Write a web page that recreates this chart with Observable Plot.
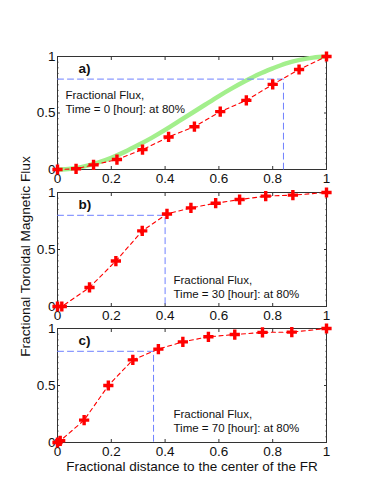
<!DOCTYPE html>
<html>
<head>
<meta charset="utf-8">
<script src="https://cdn.jsdelivr.net/npm/d3@7"></script>
<script src="https://cdn.jsdelivr.net/npm/@observablehq/plot@0.6"></script>
<style>
  body { margin: 0; background: #fff; }
  #wrap { position: relative; width: 369px; height: 503px; overflow: hidden; }
  #wrap svg { position: absolute; left: 0; top: 0; }
</style>
</head>
<body>
<div id="wrap"></div>
<script>
// ---- data ----
const xTicks = [0, 0.2, 0.4, 0.6, 0.8, 1];
const yTicks = [0, 0.5, 1];
const yMinorTicks = [0.05, 0.1, 0.15, 0.2, 0.25, 0.3, 0.35, 0.4, 0.45, 0.55, 0.6, 0.65, 0.7, 0.75, 0.8, 0.85, 0.9, 0.95];
const panelLabels = ["a)", "b)", "c)"];
const hours = [0, 30, 70];
const threshold = 0.8;
const crossX = [0.84, 0.40, 0.357];

const aX = [0, 0.069, 0.134, 0.221, 0.316, 0.413, 0.509, 0.605, 0.702, 0.80, 0.898, 1];
const aY = [0, 0.006, 0.041, 0.088, 0.176, 0.288, 0.379, 0.512, 0.612, 0.753, 0.885, 1];
const bX = [0, 0.016, 0.119, 0.217, 0.315, 0.407, 0.496, 0.588, 0.677, 0.774, 0.875, 1];
const bY = [0, 0, 0.167, 0.399, 0.663, 0.812, 0.865, 0.906, 0.938, 0.968, 0.977, 1];
const cX = [0, 0.01, 0.099, 0.189, 0.28, 0.375, 0.466, 0.561, 0.659, 0.762, 0.871, 1];
const cY = [0, 0.015, 0.196, 0.5, 0.725, 0.819, 0.883, 0.927, 0.947, 0.966, 0.968, 1];

// initial (green) profile, panel a
const greenX = [0, 0.05, 0.1, 0.15, 0.2, 0.25, 0.3, 0.35, 0.4, 0.45, 0.5, 0.55, 0.6, 0.65, 0.7, 0.75, 0.8, 0.85, 0.9, 0.95, 1];
const greenY = [0, 0.007, 0.028, 0.061, 0.104, 0.156, 0.216, 0.28, 0.35, 0.425, 0.5, 0.575, 0.65, 0.72, 0.785, 0.845, 0.895, 0.94, 0.97, 0.99, 1];

const yLabel = "Fractional Toroidal Magnetic Flux";
const xLabel = "Fractional distance to the center of the FR";

// ---- drawing ----
const W = 369, H = 503;
const fmt = d3.format("~g");
const FONT = "'Liberation Sans', Arial, Helvetica, sans-serif";
const frameColor = "#333";

const panels = [
  {xs: aX, ys: aY, top: 56, bottom: 169, green: true, noteDx: 8, noteDy: 33},
  {xs: bX, ys: bY, top: 192, bottom: 306, yLab: true, noteDx: 116, noteDy: 82},
  {xs: cX, ys: cY, top: 328, bottom: 442, xLab: true, noteDx: 116, noteDy: 80}
];

const wrap = document.getElementById("wrap");

panels.forEach((p, i) => {
  const pts = p.xs.map((x, j) => ({x, y: p.ys[j]}));
  const cx = crossX[i];
  const guide = [{x: 0, y: threshold}, {x: cx, y: threshold}, {x: cx, y: 0}];
  const marks = [
    Plot.frame({stroke: frameColor, strokeWidth: 1}),
    // inward ticks on all sides
    Plot.axisX({anchor: "bottom", ticks: xTicks, tickSize: -3, fill: "none", stroke: frameColor}),
    Plot.axisX({anchor: "top", ticks: xTicks, tickSize: -3, fill: "none", stroke: frameColor}),
    Plot.axisY({anchor: "left", ticks: yTicks, tickSize: -3, fill: "none", stroke: frameColor}),
    Plot.axisY({anchor: "right", ticks: yTicks, tickSize: -3, fill: "none", stroke: frameColor}),
    Plot.axisY({anchor: "left", ticks: yMinorTicks, tickSize: -1.5, fill: "none", stroke: frameColor}),
    Plot.axisY({anchor: "right", ticks: yMinorTicks, tickSize: -1.5, fill: "none", stroke: frameColor}),
    // tick labels
    Plot.axisX({anchor: "bottom", ticks: xTicks, tickSize: 0, tickPadding: 4, tickFormat: fmt, fill: "#111", fontSize: 13.5}),
    Plot.axisY({anchor: "left", ticks: yTicks, tickSize: 0, tickPadding: 2, tickFormat: fmt, fill: "#111", fontSize: 13.5}),
  ];
  if (p.green) {
    marks.push(Plot.line(greenX.map((x, j) => ({x, y: greenY[j]})), {
      x: "x", y: "y", stroke: "#a3ef8c", strokeWidth: 4.5, curve: "natural"
    }));
  }
  marks.push(
    Plot.line(guide, {x: "x", y: "y", stroke: "#6f80ff", strokeWidth: 1, strokeDasharray: "6,4"}),
    Plot.line(pts, {x: "x", y: "y", stroke: "#ff0000", strokeWidth: 1.1, strokeDasharray: "4,3.5"}),
    Plot.dot(pts, {x: "x", y: "y", symbol: "cross", r: 4.3, fill: "#ff0000", stroke: "none"}),
    Plot.text([panelLabels[i]], {frameAnchor: "top-left", dx: 21, dy: 6.5, lineAnchor: "top", textAnchor: "start",
      fontWeight: "bold", fontSize: 13.5, fill: "#111"}),
    Plot.text([`Fractional Flux,\nTime = ${hours[i]} [hour]: at ${Math.round(threshold * 100)}%`], {
      frameAnchor: "top-left", dx: p.noteDx, dy: p.noteDy, lineAnchor: "top", textAnchor: "start",
      lineHeight: 1.22, fontSize: 11.5, fill: "#111"})
  );
  if (p.yLab) {
    marks.push(Plot.text([yLabel], {frameAnchor: "left", dx: -32, dy: 7, rotate: -90, textAnchor: "middle",
      lineAnchor: "middle", fontSize: 13.7, fill: "#111"}));
  }
  if (p.xLab) {
    marks.push(Plot.text([xLabel], {frameAnchor: "bottom", dy: 24.5, textAnchor: "middle",
      lineAnchor: "middle", fontSize: 13.5, fill: "#111"}));
  }
  const svg = Plot.plot({
    width: W, height: H,
    marginLeft: 57, marginRight: 43, marginTop: p.top, marginBottom: H - p.bottom,
    style: {background: "transparent", fontFamily: FONT, fontSize: "13.5px", color: "#111", overflow: "visible"},
    x: {domain: [0, 1], label: null},
    y: {domain: [0, 1], label: null},
    marks
  });
  wrap.appendChild(svg);
});
</script>
</body>
</html>
